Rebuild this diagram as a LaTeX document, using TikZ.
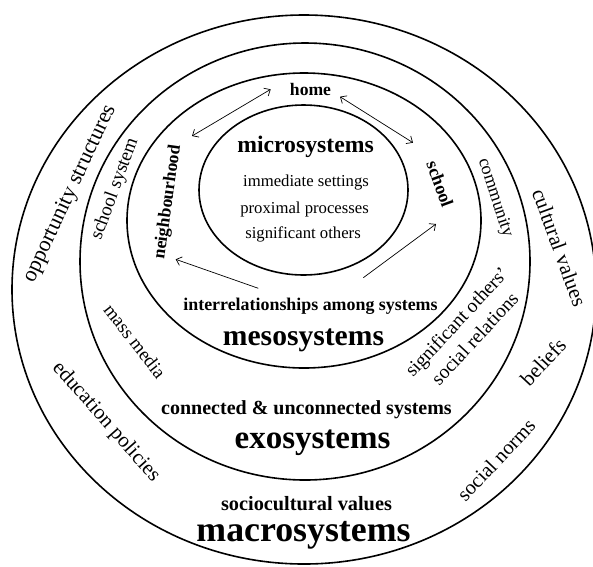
\documentclass[tikz,border=0pt]{standalone}
\usepackage{fontspec}
\setmainfont{Liberation Serif}
\usetikzlibrary{arrows.meta}

\newcommand{\fsz}[1]{\fontsize{#1}{#1}\selectfont}

\begin{document}
\begin{tikzpicture}
[x=1pt,y=-1pt,
 ring/.style={line width=1.6pt},
 link/.style={line width=0.7pt},
 >={Straight Barb[length=5pt,width=9pt]},
 hd/.style={font=\fsz{#1}\bfseries,anchor=base,inner sep=0pt},
 lb/.style={font=\fsz{#1},inner sep=0pt}]
\useasboundingbox (0,0) rectangle (593,566);

\foreach \cx/\cy/\rx/\ry in {303.5/190/104.5/85,304/220.5/177/147.5,305/261.5/225/218.5,304/289.5/292/274.5}
\draw[ring] (\cx,\cy) ellipse [x radius=\rx, y radius=\ry];

\node[hd=23.7] (micro) at (305.5,152.7) {microsystems};
\node[lb=16.7,anchor=base] (imm) at (306,186.7) {immediate settings};
\node[lb=16.7,anchor=base] (prox) at (304.5,213.3) {proximal processes};
\node[lb=16.7,anchor=base] (sig) at (303,238.3) {significant others};

\node[hd=17.6] (home) at (310.5,95) {home};
\node[hd=17.7,anchor=center,rotate=82] (nbh) at (168,202) {neighbourhood};
\node[hd=18,anchor=center,rotate=-70] (school) at (440,184) {school};

\node[hd=17.9] (inter) at (310.5,310) {interrelationships among systems};
\node[hd=29.6] (meso) at (303.5,345) {mesosystems};
\node[hd=20] (conn) at (306.5,414.3) {connected \& unconnected systems};
\node[hd=33] (exo) at (312.5,448.3) {exosystems};
\node[hd=20.3] (socio) at (306.5,510.7) {sociocultural values};
\node[hd=35.8] (macro) at (303.5,541.7) {macrosystems};

\node[lb=19,rotate=70] (schsys) at (115,189) {school system};
\node[lb=18.8,rotate=-52] (media) at (135,341) {mass media};
\node[lb=18,rotate=-72] (comm) at (495,198) {community};
\node[lb=19.5,rotate=47,align=center,font=\fontsize{19.5}{24.8}\selectfont] (sigrel) at (465.5,330) {significant others’\\social relations};

\node[lb=22,rotate=65] (opp) at (70,194) {opportunity structures};
\node[lb=21,rotate=-48.7] (edu) at (106,422) {education policies};
\node[lb=21,rotate=-70] (cult) at (559.5,247.5) {cultural values};
\node[lb=21,rotate=47] (beliefs) at (543,362) {beliefs};
\node[lb=20.4,rotate=46.7] (norms) at (496,460) {social norms};

\coordinate (hn1) at (270.7,89.3);
\coordinate (hn2) at (192,136);
\coordinate (hs1) at (340,96.7);
\coordinate (hs2) at (413,142.7);
\coordinate (in1) at (258.3,288.3);
\coordinate (in2) at (175.7,259.3);
\coordinate (is1) at (363.3,277.7);
\coordinate (is2) at (436,224);

\draw[link,<->] (hn1) -- (hn2);
\draw[link,<->] (hs1) -- (hs2);
\foreach \from/\to in {in1/in2,is1/is2}
\draw[link,->] (\from) -- (\to);
\end{tikzpicture}
\end{document}
